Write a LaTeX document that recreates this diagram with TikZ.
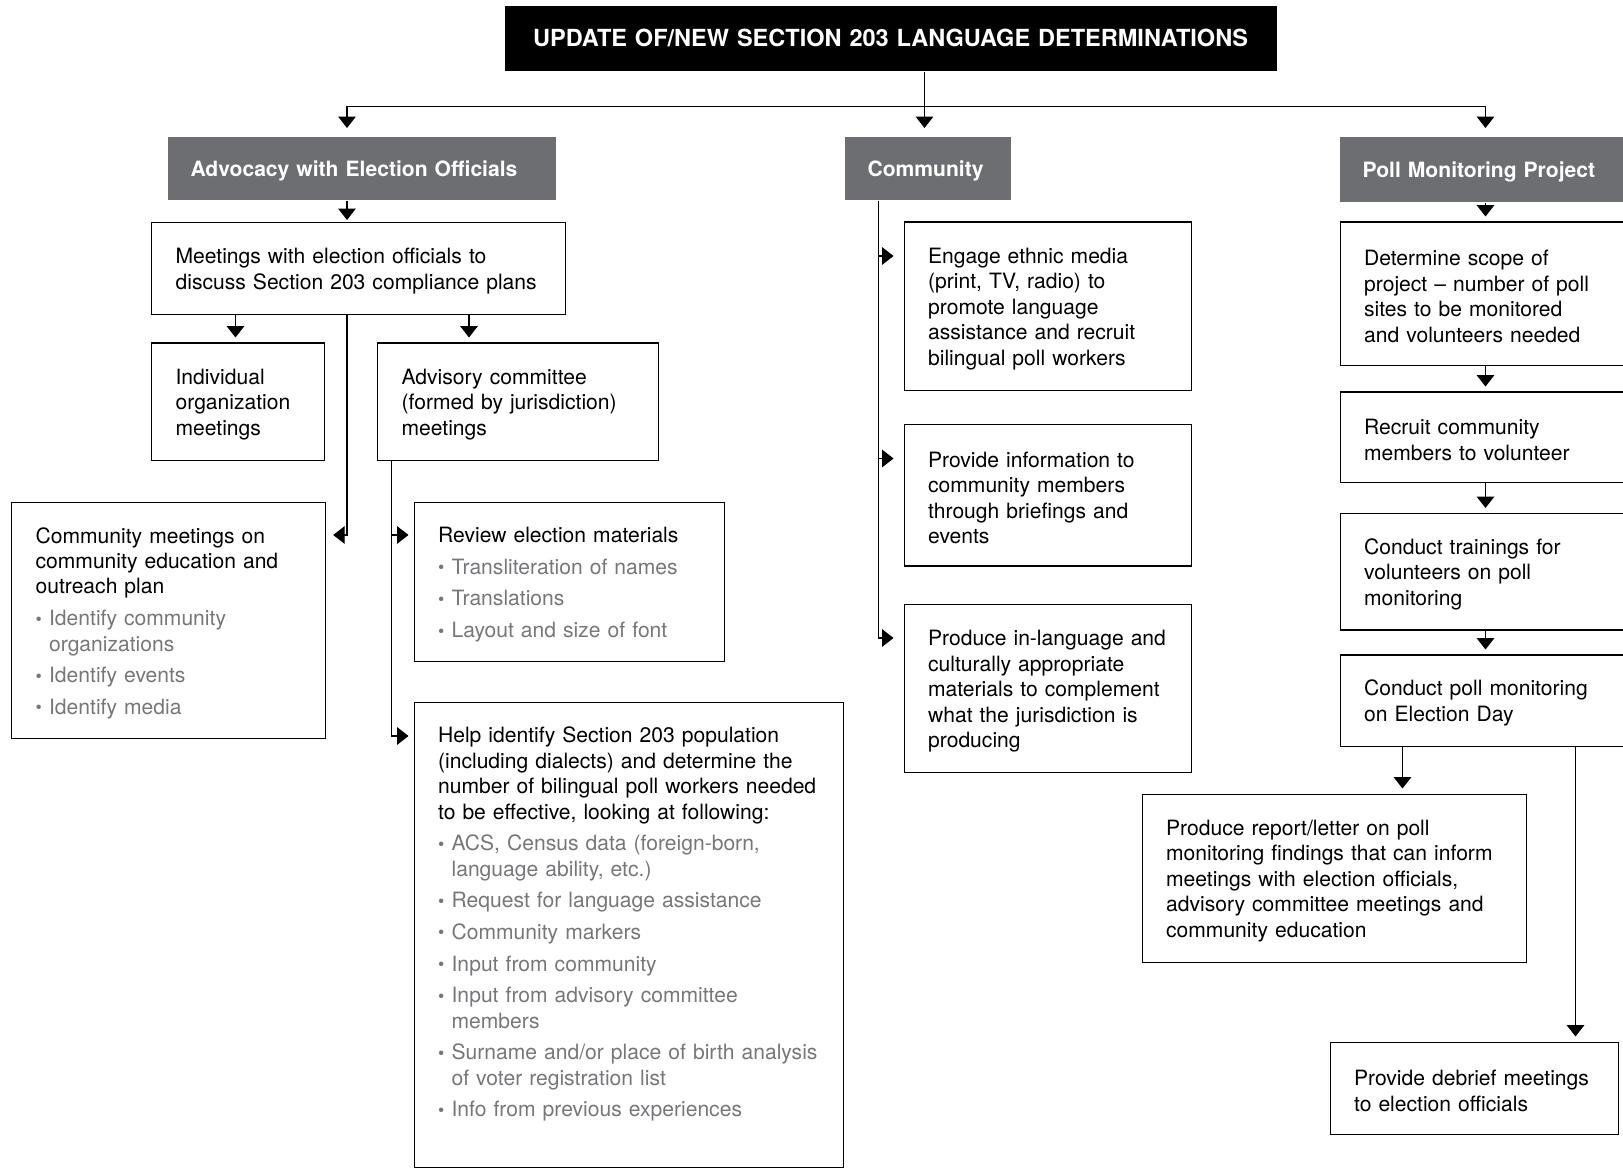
\documentclass[tikz,border=0pt]{standalone}
\usepackage{fontspec}
\setmainfont{TeX Gyre Heros}
\usepackage{tikz}
\usetikzlibrary{arrows.meta}
\definecolor{headgray}{HTML}{6D6E71}
\definecolor{bulletgray}{HTML}{76777A}
\newcommand{\gitem}{\makebox[0.27cm][l]{\raisebox{0.3pt}{\scalebox{0.85}{\textbullet}}}}
\newcommand{\gindent}{\hspace*{0.27cm}}

\begin{document}
\begin{tikzpicture}[y=-1cm, >={Triangle[length=6.5pt,width=10pt]}, line width=0.6pt]
	\tikzset{
		entry/.style={draw, line width=0.7pt, anchor=north west, align=left, inner xsep=0.48cm, inner ysep=0pt, font=\fontsize{12}{14.5}\selectfont, execute at begin node={\rule{0pt}{11.8pt}}},
		headbox/.style={fill=headgray, text=white, anchor=north west, align=left, inner xsep=0.45cm, inner ysep=0pt, font=\fontsize{12}{14.5}\selectfont\bfseries, execute at begin node={\rule{0pt}{11.8pt}}},
		topbox/.style={fill=black, text=white, anchor=north west, align=center, inner xsep=0.3cm, inner ysep=0pt, font=\fontsize{13.4}{15}\selectfont\bfseries},
		conn/.style={->, shorten >=0.1cm},
	}
	\path[use as bounding box, clip] (0,0) rectangle (32.46,23.36);

	% trunk positions
	\coordinate (bar)  at (18.49,2.13);
	\coordinate (xA)   at (6.94,0);
	\coordinate (xB)   at (7.83,0);
	\coordinate (xC)   at (17.57,0);
	\coordinate (xP)   at (29.71,0);
	\coordinate (xInd) at (4.71,0);
	\coordinate (xAdv) at (9.38,0);
	\coordinate (xRep) at (28.05,0);
	\coordinate (xDeb) at (31.51,0);

	\node[topbox, text width=14.84cm, minimum height=1.31cm] (top) at (10.08,0.10) {UPDATE OF/NEW SECTION 203 LANGUAGE DETERMINATIONS};

	\node[headbox, text width=6.86cm, minimum height=1.27cm] (adv) at (3.35,2.72) {Advocacy with Election Officials};
	\node[headbox, text width=2.41cm, minimum height=1.27cm] (com) at (16.89,2.72) {Community};
	\node[headbox, text width=5.3cm, minimum height=1.31cm] (poll) at (26.79,2.72) {Poll Monitoring Project};

	% advocacy column
	\node[entry, text width=7.31cm, minimum height=1.84cm] (meet) at (3.02,4.44) {Meetings with election officials to\\discuss Section 203 compliance plans};
	\node[entry, text width=2.50cm, minimum height=2.35cm] (indiv) at (3.02,6.85) {Individual\\organization\\meetings};
	\node[entry, text width=4.65cm, minimum height=2.35cm] (advis) at (7.54,6.85) {Advisory committee\\(formed by jurisdiction)\\meetings};
	\node[entry, text width=5.31cm, minimum height=4.72cm] (cmeet) at (0.22,10.04) {Community meetings on\\
		community education and\\
		outreach plan\\[3.5pt]
		\color{bulletgray}\gitem Identify community\\
		\gindent organizations\\[3.5pt]
		\gitem Identify events\\[3.5pt]
		\gitem Identify media};
	\node[entry, text width=5.24cm, minimum height=3.18cm] (review) at (8.27,10.04) {Review election materials\\[3.5pt]
		\color{bulletgray}\gitem Transliteration of names\\[3.5pt]
		\gitem Translations\\[3.5pt]
		\gitem Layout and size of font};
	\node[entry, text width=7.62cm, minimum height=9.30cm] (help) at (8.27,14.03) {Help identify Section 203 population\\
		(including dialects) and determine the\\
		number of bilingual poll workers needed\\
		to be effective, looking at following:\\[3.5pt]
		\color{bulletgray}\gitem ACS, Census data (foreign-born,\\
		\gindent language ability, etc.)\\[3.5pt]
		\gitem Request for language assistance\\[3.5pt]
		\gitem Community markers\\[3.5pt]
		\gitem Input from community\\[3.5pt]
		\gitem Input from advisory committee\\
		\gindent members\\[3.5pt]
		\gitem Surname and/or place of birth analysis\\
		\gindent of voter registration list\\[3.5pt]
		\gitem Info from previous experiences\par\vspace{0.1cm}\null};

	% community column
	\node[entry, text width=4.79cm, minimum height=3.37cm] (engage) at (18.07,4.43) {Engage ethnic media\\(print, TV, radio) to\\promote language\\assistance and recruit\\bilingual poll workers};
	\node[entry, text width=4.79cm, minimum height=2.83cm] (inform) at (18.07,8.48) {Provide information to\\community members\\through briefings and\\events};
	\node[entry, text width=4.79cm, minimum height=3.36cm] (produce) at (18.07,12.08) {Produce in-language and\\culturally appropriate\\materials to complement\\what the jurisdiction is\\producing};

	% poll monitoring column
	\node[entry, text width=5.44cm, minimum height=2.87cm] (scope) at (26.79,4.43) {Determine scope of\\project -- number of poll\\sites to be monitored\\and volunteers needed};
	\node[entry, text width=5.44cm, minimum height=1.81cm] (recruit) at (26.79,7.83) {Recruit community\\members to volunteer};
	\node[entry, text width=5.44cm, minimum height=2.33cm] (train) at (26.79,10.26) {Conduct trainings for\\volunteers on poll\\monitoring};
	\node[entry, text width=5.44cm, minimum height=1.82cm] (monitor) at (26.79,13.09) {Conduct poll monitoring\\on Election Day};
	\node[entry, text width=6.72cm, minimum height=3.36cm] (report) at (22.83,15.87) {Produce report/letter on poll\\monitoring findings that can inform\\meetings with election officials,\\advisory committee meetings and\\community education};
	\node[entry, text width=4.80cm, minimum height=1.84cm] (debrief) at (26.59,20.83) {Provide debrief meetings\\to election officials};

	% connectors
	\draw (top.south -| bar) -- (bar);
	\draw[conn, shorten >=0.16cm] (bar) -| (adv.north -| xA);
	\draw[conn, shorten >=0.16cm] (bar) -- (com.north -| bar);
	\draw[conn, shorten >=0.16cm] (bar) -| (poll.north -| xP);

	\draw[conn, shorten >=0.04cm] (adv.south -| xA) -- (meet.north -| xA);
	\draw[conn] (meet.south -| xInd) -- (indiv.north -| xInd);
	\draw[conn] (meet.south -| xAdv) -- (advis.north -| xAdv);
	\draw[conn, shorten >=0.15cm] (meet.south -| xA) |- ([yshift=-0.66cm]cmeet.north east);
	\draw[conn] (advis.south -| xB) |- ([yshift=-0.66cm]review.north west);
	\draw[conn] (advis.south -| xB) |- ([yshift=-0.69cm]help.north west);

	\draw[conn, shorten >=0.2cm] (com.south -| xC) |- ([yshift=-0.69cm]engage.north west);
	\draw[conn, shorten >=0.2cm] (com.south -| xC) |- ([yshift=-0.69cm]inform.north west);
	\draw[conn, shorten >=0.2cm] (com.south -| xC) |- ([yshift=-0.68cm]produce.north west);

	\draw[conn] (poll.south -| xP) -- (scope.north -| xP);
	\draw[conn] (scope.south -| xP) -- (recruit.north -| xP);
	\draw[conn] (recruit.south -| xP) -- (train.north -| xP);
	\draw[conn] (train.south -| xP) -- (monitor.north -| xP);
	\draw[conn] (monitor.south -| xRep) -- (report.north -| xRep);
	\draw[conn] (monitor.south -| xDeb) -- (debrief.north -| xDeb);
\end{tikzpicture}
\end{document}
